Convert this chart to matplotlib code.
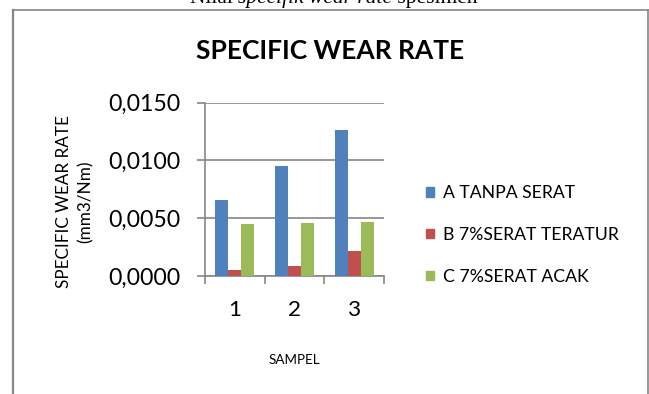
import matplotlib
matplotlib.use("Agg")
import numpy as np
import matplotlib.pyplot as plt
from matplotlib.lines import Line2D
from matplotlib.patches import Patch

W, H = 649, 394

# data ─────────────────────────────────────────────
samples = ["1", "2", "3"]
series = ["A TANPA SERAT", "B 7%SERAT TERATUR", "C 7%SERAT ACAK"]
tanpa_serat = [0.0066, 0.0095, 0.0126]
serat_teratur = [0.0005, 0.0009, 0.0022]
serat_acak = [0.0045, 0.0046, 0.0047]
y_ticks = [0.0, 0.005, 0.010, 0.015]

colors = ["#4F81BD", "#C0504D", "#9BBB59"]
GRAY = "#868686"

plt.rcParams['font.family'] = ['Lato', 'DejaVu Sans']


def px(x0, y0, x1, y1):
    # pixel box (top-left origin) -> figure rect
    return [x0 / W, 1 - y1 / H, (x1 - x0) / W, (y1 - y0) / H]


fig = plt.figure(figsize=(W / 100, H / 100), dpi=100)

ax = fig.add_axes(px(205, 102.6, 384, 276))
x = np.arange(1, len(samples) + 1)
bw = 0.218
for i, (vals, c) in enumerate(zip([tanpa_serat, serat_teratur, serat_acak], colors)):
    ax.bar(x + (i - 1) * bw, vals, bw, color=c, zorder=3, linewidth=0)

ax.set_xlim(0.5, len(samples) + 0.5)
ax.set_ylim(0, 0.015)
ax.set_yticks(y_ticks)
ax.set_yticklabels([f"{v:.4f}".replace(".", ",") for v in y_ticks])
ax.set_xticks(np.arange(0.5, len(samples) + 0.6, 1))
ax.set_xticklabels([])
ax.set_xticks(x, samples, minor=True)

ax.tick_params(axis='x', which='major', length=5.8, width=1.2, color=GRAY)
ax.tick_params(axis='x', which='minor', length=0, pad=17, labelsize=16.2)
ax.tick_params(axis='y', length=5.8, width=1.2, color=GRAY, pad=12, labelsize=16.6)

ax.yaxis.grid(True, color=GRAY, lw=1.2)
for s in ['top', 'right']:
    ax.spines[s].set_visible(False)
for s in ['left', 'bottom']:
    ax.spines[s].set_color(GRAY)
    ax.spines[s].set_linewidth(1.2)

handles = [Patch(color=c, label=n) for c, n in zip(colors, series)]
fig.legend(handles=handles, loc='center left', bbox_to_anchor=(417 / W, 1 - 235 / H),
           frameon=False, fontsize=12.7, handlelength=0.45, handleheight=0.45,
           handletextpad=0.5, labelspacing=1.45, borderpad=0)

fig.text(330.5 / W, 1 - 51 / H, "SPECIFIC WEAR RATE", fontsize=19, fontweight='bold',
         ha='center', va='center')
fig.text(75 / W, 1 - 202 / H, "SPECIFIC WEAR RATE\n(mm3/Nm)", rotation=90, fontsize=12.3,
         ha='center', va='center', multialignment='center', linespacing=1.45)
fig.text(294.5 / W, 1 - 360 / H, "SAMPEL", fontsize=9.7, ha='center', va='center')

# chart frame (bottom cut off)
fig.add_artist(Line2D([13 / W, 13 / W], [0, 1 - 9.5 / H], color=GRAY, lw=1.6))
fig.add_artist(Line2D([13 / W, 648 / W], [1 - 9.5 / H, 1 - 9.5 / H], color=GRAY, lw=1.2))
fig.add_artist(Line2D([648 / W, 648 / W], [0, 1 - 9.5 / H], color=GRAY, lw=1.2))

# caption above the chart, mostly cut off at the top edge
serif = ['Liberation Serif', 'DejaVu Serif']
parts = [("Nilai ", 'normal'), ("specifik wear rate", 'italic'), (" spesimen", 'normal')]
renderer = fig.canvas.get_renderer()
cx = 190.0
for txt, st in parts:
    t = fig.text(cx / W, 1 - 3 / H, txt, fontsize=15.5, family=serif, style=st, va='baseline')
    cx += t.get_window_extent(renderer).width

fig.savefig("out.png", dpi=100)
